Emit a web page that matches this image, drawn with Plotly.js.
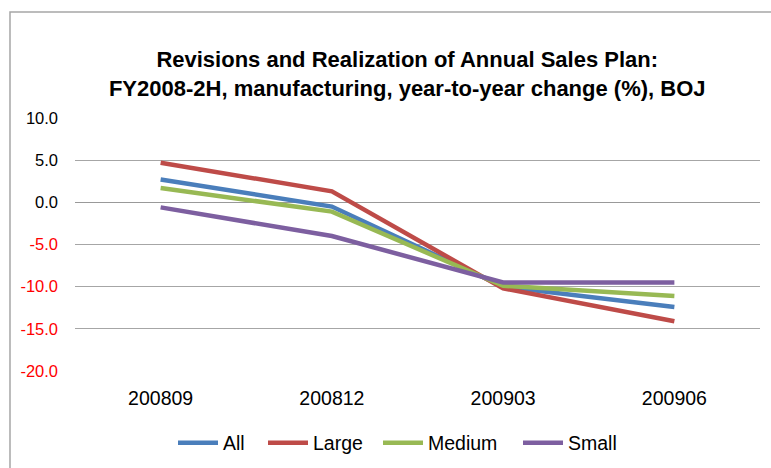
<!DOCTYPE html>
<html>
<head>
<meta charset="utf-8">
<script src="https://cdn.plot.ly/plotly-3.0.1.min.js"></script>
<style>
html,body{margin:0;padding:0;background:#fff;}
#chart{width:771px;height:468px;}
</style>
</head>
<body>
<div id="chart"></div>
<script>
const categories = ["200809", "200812", "200903", "200906"];
const allValues = [2.7, -0.5, -10.0, -12.4];
const largeValues = [4.7, 1.3, -10.2, -14.1];
const mediumValues = [1.7, -1.1, -9.9, -11.1];
const smallValues = [-0.6, -4.0, -9.5, -9.5];
const yTickVals = [10, 5, 0, -5, -10, -15, -20];
const yTickText = yTickVals.map(v => v < 0
  ? '<span style="color:#ff0000">' + v.toFixed(1) + '</span>'
  : v.toFixed(1));

const font = "Liberation Sans, Arial, sans-serif";
function series(name, values, color, legendId) {
  return {
    type: "scatter", mode: "lines", name: name, legend: legendId,
    x: categories, y: values,
    line: {color: color, width: 4.5}
  };
}
const data = [
  series("All", allValues, "#4A7EBB", "legend"),
  series("Large", largeValues, "#BE4B48", "legend2"),
  series("Medium", mediumValues, "#98B954", "legend3"),
  series("Small", smallValues, "#7D5FA0", "legend4")
];
function leg(px) {
  return {
    orientation: "h", xref: "container", yref: "container",
    x: px / 771, xanchor: "left", y: (468 - 443) / 468, yanchor: "middle",
    font: {size: 19.5, family: font}, itemwidth: 40, bgcolor: "rgba(0,0,0,0)"
  };
}
const layout = {
  width: 771, height: 468,
  margin: {l: 75, r: 11, t: 118, b: 97, autoexpand: false},
  paper_bgcolor: "#fff", plot_bgcolor: "#fff",
  font: {family: font, color: "#000"},
  title: {
    text: "<b>Revisions and Realization of Annual Sales Plan:<br>FY2008-2H, manufacturing, year-to-year change (%), BOJ</b>",
    font: {family: font, size: 22, color: "#000"},
    x: 0.485, xref: "paper", xanchor: "center",
    y: 0.856, yref: "container", yanchor: "middle"
  },
  xaxis: {
    type: "category", range: [-0.5, 3.5], automargin: false,
    showgrid: false, zeroline: false, showline: false,
    ticks: "", tickfont: {size: 19.5, family: font},
    ticklabelstandoff: 13, fixedrange: true
  },
  yaxis: {
    range: [-20, 10], tickvals: yTickVals, ticktext: yTickText, automargin: false,
    showgrid: true, gridcolor: "#a6a6a6", gridwidth: 1,
    zeroline: true, zerolinecolor: "#999999", zerolinewidth: 1.6,
    showline: false, ticks: "", tickfont: {size: 16.5, family: font},
    ticklabelstandoff: 16, fixedrange: true
  },
  showlegend: true,
  legend: leg(173),
  legend2: leg(263),
  legend3: leg(378),
  legend4: leg(518),
  shapes: [{
    type: "rect", xref: "paper", yref: "paper",
    x0: -0.0949, x1: 1.2, y0: -0.6, y1: 1.419,
    line: {color: "#a6a6a6", width: 1.5}, layer: "below"
  }]
};
Plotly.newPlot("chart", data, layout, {displayModeBar: false, staticPlot: true});
</script>
</body>
</html>
